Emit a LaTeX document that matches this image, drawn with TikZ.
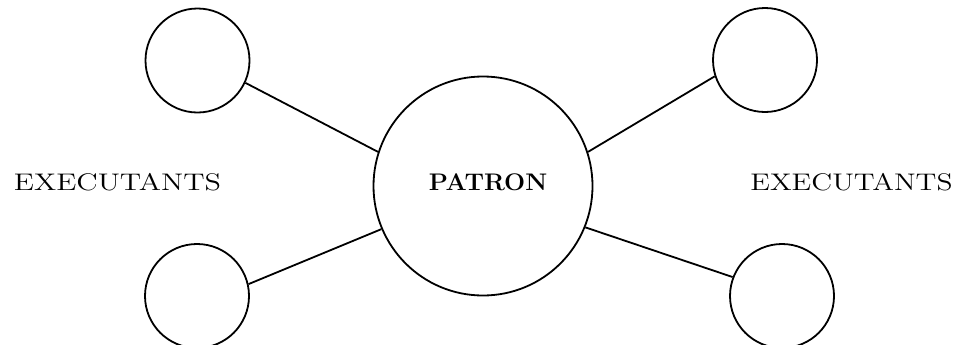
\documentclass[tikz,border=0pt]{standalone}
\begin{document}
\begin{tikzpicture}[x=0.5pt,y=0.5pt,
  big/.style={draw,circle,line width=0.9pt,minimum size=109.5pt,inner sep=0pt},
  small/.style={draw,circle,line width=0.9pt,minimum size=52pt,inner sep=0pt},
  conn/.style={line width=0.9pt},
  lbl/.style={font=\fontsize{12}{14}\selectfont,inner sep=0pt}]
\useasboundingbox (0,0) rectangle (962,344);
\node[big] (p) at (483,158) {};
\node[lbl,font=\fontsize{12}{14}\selectfont\bfseries] (pt) at (488,162) {\scalebox{1.04}[1]{PATRON}};
\node[small] (tl) at (197.5,283.5) {};
\node[small] (bl) at (197,48) {};
\node[small] (tr) at (765,284) {};
\node[small] (br) at (782,48) {};
\node[lbl] (el) at (117.5,162) {\scalebox{1.26}[1]{EXECUTANTS}};
\node[lbl] (er) at (851.5,162) {\scalebox{1.23}[1]{EXECUTANTS}};
\draw[conn] (p.162.1) -- (tl.-25.3);
\draw[conn] (p.203.1) -- (bl.13.2);
\draw[conn] (p.18.6) -- (tr.198.4);
\draw[conn] (p.-22.4) -- (br.159.4);
\end{tikzpicture}
\end{document}
